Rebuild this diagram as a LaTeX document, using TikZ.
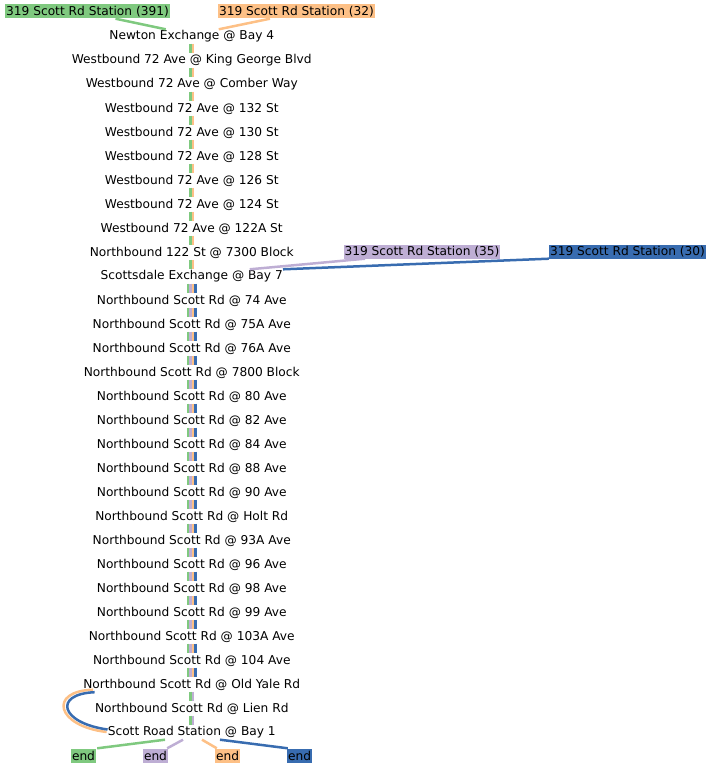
\documentclass[tikz,border=0pt]{standalone}
\usepackage{fontspec}
\setmainfont{DejaVu Sans}
\usepackage{xcolor}
\usetikzlibrary{calc}

\definecolor{rgreen}{HTML}{7FC97F}
\definecolor{rpurple}{HTML}{BEAED4}
\definecolor{rorange}{HTML}{FDC086}
\definecolor{rblue}{HTML}{386CB0}

\begin{document}
\begin{tikzpicture}[x=1pt,y=-1pt,
  every node/.style={font=\fontsize{12.2}{14}\selectfont},
  stop/.style={inner sep=0pt,minimum height=14pt},
  route/.style={fill=#1,inner xsep=1pt,inner ysep=0pt,minimum height=14pt},
  seg/.style={line width=2.5pt}]
  \useasboundingbox (0,0) rectangle (712,768);

  % stops along the trip
  \foreach \name [count=\i from 0] in {Newton Exchange @ Bay 4,
      Westbound 72 Ave @ King George Blvd, Westbound 72 Ave @ Comber Way,
      Westbound 72 Ave @ 132 St, Westbound 72 Ave @ 130 St,
      Westbound 72 Ave @ 128 St, Westbound 72 Ave @ 126 St,
      Westbound 72 Ave @ 124 St, Westbound 72 Ave @ 122A St,
      Northbound 122 St @ 7300 Block, Scottsdale Exchange @ Bay 7,
      Northbound Scott Rd @ 74 Ave, Northbound Scott Rd @ 75A Ave,
      Northbound Scott Rd @ 76A Ave, Northbound Scott Rd @ 7800 Block,
      Northbound Scott Rd @ 80 Ave, Northbound Scott Rd @ 82 Ave,
      Northbound Scott Rd @ 84 Ave, Northbound Scott Rd @ 88 Ave,
      Northbound Scott Rd @ 90 Ave, Northbound Scott Rd @ Holt Rd,
      Northbound Scott Rd @ 93A Ave, Northbound Scott Rd @ 96 Ave,
      Northbound Scott Rd @ 98 Ave, Northbound Scott Rd @ 99 Ave,
      Northbound Scott Rd @ 103A Ave, Northbound Scott Rd @ 104 Ave,
      Northbound Scott Rd @ Old Yale Rd, Northbound Scott Rd @ Lien Rd,
      Scott Road Station @ Bay 1}
    \node[stop] (n\i) at (191.75,36.5+24*\i) {\name};

  % route labels and ends
  \node[route=rgreen] (l391) at (87.5,11.5) {319 Scott Rd Station (391)};
  \node[route=rorange] (l32) at (296.5,11.5) {319 Scott Rd Station (32)};
  \node[route=rpurple] (l35) at (422,251.5) {319 Scott Rd Station (35)};
  \node[route=rblue] (l30) at (627.5,251.5) {319 Scott Rd Station (30)};
  \node[route=rgreen] (e391) at (83.5,755.5) {end};
  \node[route=rpurple] (e35) at (155.5,755.5) {end};
  \node[route=rorange] (e32) at (227.5,755.5) {end};
  \node[route=rblue] (e30) at (299.5,755.5) {end};

  % shared segments
  \foreach \i [evaluate=\i as \j using int(\i+1)] in {0,...,9}
    \foreach \c/\dx in {rgreen/-1.25,rorange/1.25}
      \draw[seg,\c] ([xshift=\dx pt]n\i.south) -- ([xshift=\dx pt]n\j.north);
  \foreach \i [evaluate=\i as \j using int(\i+1)] in {10,...,26}
    \foreach \c/\dx in {rgreen/-3.75,rpurple/-1.25,rorange/1.25,rblue/3.75}
      \draw[seg,\c] ([xshift=\dx pt]n\i.south) -- ([xshift=\dx pt]n\j.north);
  \foreach \i [evaluate=\i as \j using int(\i+1)] in {27,28}
    \foreach \c/\dx in {rgreen/-1.25,rpurple/1.25}
      \draw[seg,\c] ([xshift=\dx pt]n\i.south) -- ([xshift=\dx pt]n\j.north);

  % route starts
  \draw[seg,rgreen] ([xshift=28pt]l391.south) -- ([xshift=-26pt]n0.north);
  \draw[seg,rorange] ([xshift=-26.5pt]l32.south) -- ([xshift=27pt]n0.north);
  \draw[seg,rpurple] ([xshift=-57pt]l35.south) -- ([xshift=58pt]n10.north);
  \draw[seg,rblue] (l30.south west) -- (n10.north east);

  % skip of Lien Rd
  \draw[seg,rorange] ($(n27.south west)+(10,-2)$) .. controls (48,691) and (56,726) .. ($(n29.west)+(-1,-0.5)$);
  \draw[seg,rblue] ($(n27.south west)+(11.5,0.5)$) .. controls (53,694) and (60,723) .. ($(n29.west)+(0,-3)$);

  % route ends
  \draw[seg,rgreen] ([xshift=-26.75pt]n29.south) -- ([xshift=1pt]e391.north east);
  \draw[seg,rpurple] ([xshift=-8.75pt]n29.south) -- ([xshift=-1pt]e35.north east);
  \draw[seg,rorange] ([xshift=10.25pt]n29.south) -- ([xshift=2pt]e32.north west);
  \draw[seg,rblue] ([xshift=28.25pt]n29.south) -- ([xshift=1pt]e30.north west);
\end{tikzpicture}
\end{document}
